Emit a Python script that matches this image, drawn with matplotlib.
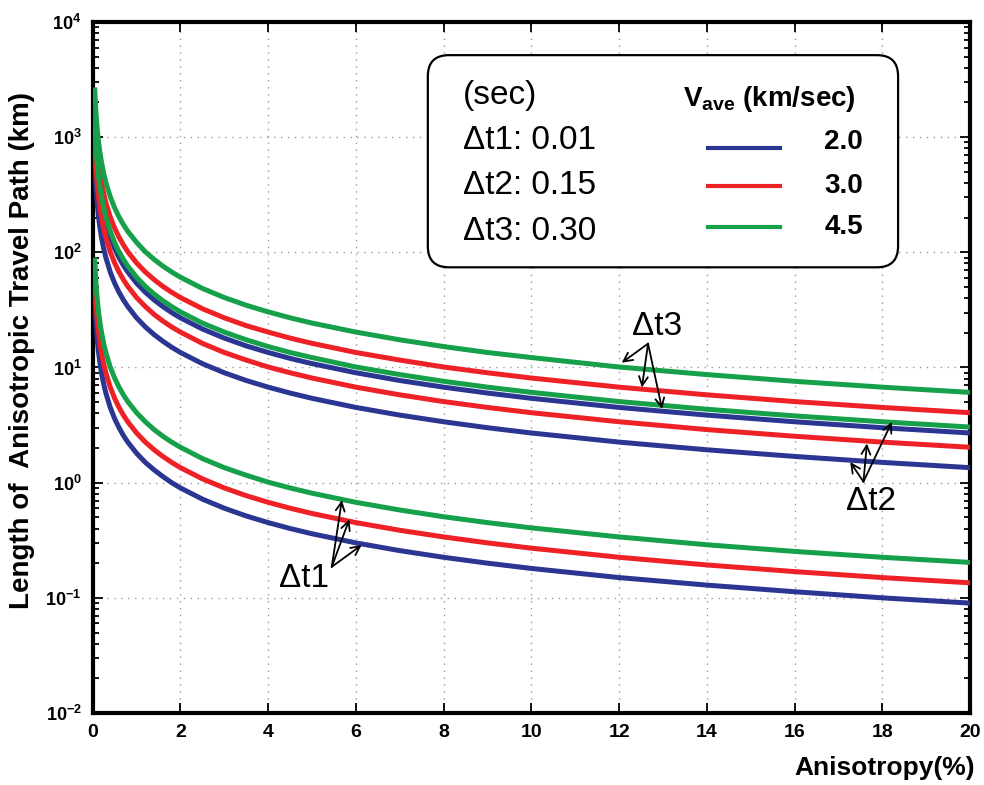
import math
import matplotlib.pyplot as plt
from matplotlib.patches import FancyBboxPatch
from matplotlib.ticker import FuncFormatter, LogLocator, MultipleLocator, NullFormatter

plt.rcParams['font.family'] = ['Liberation Sans', 'DejaVu Sans']
plt.rcParams['mathtext.fontset'] = 'custom'
plt.rcParams['mathtext.rm'] = 'Liberation Sans'
plt.rcParams['mathtext.bf'] = 'Liberation Sans:bold'

# anisotropy (%) at which path lengths were read
anisotropy = [0.045, 0.06, 0.08, 0.1, 0.13, 0.16, 0.2, 0.25, 0.3, 0.4,
              0.5, 0.6, 0.7, 0.8, 1.0, 1.2, 1.4, 1.6, 1.8, 2.0,
              2.5, 3, 3.5, 4, 4.5, 5, 6, 7, 8, 9,
              10, 12, 14, 16, 18, 20]

# path length (km) for dt1 = 0.01 s
dt1_v20 = [40, 30, 22.5, 18, 13.8, 11.3, 9.0, 7.2, 6.0, 4.5,
           3.6, 3.0, 2.57, 2.25, 1.8, 1.5, 1.29, 1.13, 1.0, 0.90,
           0.72, 0.60, 0.514, 0.45, 0.40, 0.36, 0.30, 0.257, 0.225, 0.20,
           0.18, 0.15, 0.129, 0.113, 0.10, 0.09]
dt1_v30 = [60, 45, 33.8, 27, 20.8, 16.9, 13.5, 10.8, 9.0, 6.75,
           5.4, 4.5, 3.86, 3.38, 2.7, 2.25, 1.93, 1.69, 1.5, 1.35,
           1.08, 0.90, 0.771, 0.675, 0.60, 0.54, 0.45, 0.386, 0.338, 0.30,
           0.27, 0.225, 0.193, 0.169, 0.15, 0.135]
dt1_v45 = [90, 67.5, 50.6, 40.5, 31.2, 25.3, 20.3, 16.2, 13.5, 10.1,
           8.1, 6.75, 5.79, 5.06, 4.05, 3.38, 2.89, 2.53, 2.25, 2.03,
           1.62, 1.35, 1.16, 1.01, 0.90, 0.81, 0.675, 0.579, 0.506, 0.45,
           0.405, 0.338, 0.289, 0.253, 0.225, 0.203]

# path length (km) for dt2 = 0.15 s
dt2_v20 = [600, 450, 338, 270, 208, 169, 135, 108, 90, 67.5,
           54, 45, 38.6, 33.8, 27, 22.5, 19.3, 16.9, 15.0, 13.5,
           10.8, 9.0, 7.71, 6.75, 6.0, 5.4, 4.5, 3.86, 3.38, 3.0,
           2.7, 2.25, 1.93, 1.69, 1.5, 1.35]
dt2_v30 = [900, 675, 506, 405, 312, 253, 203, 162, 135, 101,
           81, 67.5, 57.9, 50.6, 40.5, 33.8, 28.9, 25.3, 22.5, 20.3,
           16.2, 13.5, 11.6, 10.1, 9.0, 8.1, 6.75, 5.79, 5.06, 4.5,
           4.05, 3.38, 2.89, 2.53, 2.25, 2.03]
dt2_v45 = [1350, 1013, 759, 608, 467, 380, 304, 243, 203, 152,
           122, 101, 86.8, 75.9, 60.8, 50.6, 43.4, 38.0, 33.8, 30.4,
           24.3, 20.3, 17.4, 15.2, 13.5, 12.2, 10.1, 8.68, 7.59, 6.75,
           6.08, 5.06, 4.34, 3.80, 3.38, 3.04]

# path length (km) for dt3 = 0.30 s
dt3_v20 = [1200, 900, 675, 540, 415, 338, 270, 216, 180, 135,
           108, 90, 77.1, 67.5, 54, 45, 38.6, 33.8, 30, 27,
           21.6, 18, 15.4, 13.5, 12, 10.8, 9.0, 7.71, 6.75, 6.0,
           5.4, 4.5, 3.86, 3.38, 3.0, 2.7]
dt3_v30 = [1800, 1350, 1013, 810, 623, 506, 405, 324, 270, 203,
           162, 135, 116, 101, 81, 67.5, 57.9, 50.6, 45, 40.5,
           32.4, 27, 23.1, 20.3, 18, 16.2, 13.5, 11.6, 10.1, 9.0,
           8.1, 6.75, 5.79, 5.06, 4.5, 4.05]
dt3_v45 = [2700, 2025, 1519, 1215, 935, 759, 608, 486, 405, 304,
           243, 203, 174, 152, 122, 101, 86.8, 75.9, 67.5, 60.8,
           48.6, 40.5, 34.7, 30.4, 27, 24.3, 20.3, 17.4, 15.2, 13.5,
           12.2, 10.1, 8.68, 7.59, 6.75, 6.08]

velocities = ['2.0', '3.0', '4.5']
delays = ['Δt1: 0.01', 'Δt2: 0.15', 'Δt3: 0.30']
colors = ['#2b3592', '#ee2126', '#16a049']

curves = {
    '2.0': [dt1_v20, dt2_v20, dt3_v20],
    '3.0': [dt1_v30, dt2_v30, dt3_v30],
    '4.5': [dt1_v45, dt2_v45, dt3_v45],
}

fig = plt.figure(figsize=(9.84, 7.85), dpi=100)
ax = fig.add_axes([0.0942, 0.0917, 0.8916, 0.8803])

for v, c in zip(velocities, colors):
    for series in curves[v]:
        ax.plot(anisotropy, series, color=c, lw=3.6, solid_capstyle='butt',
                solid_joinstyle='round', zorder=3)

ax.set_yscale('log')
ax.set_xlim(0, 20)
ax.set_ylim(1e-2, 1e4)
ax.xaxis.set_major_locator(MultipleLocator(2))
ax.yaxis.set_major_locator(LogLocator(base=10, numticks=10))
ax.yaxis.set_minor_locator(LogLocator(base=10, subs=range(2, 10), numticks=20))
ax.yaxis.set_minor_formatter(NullFormatter())
ax.yaxis.set_major_formatter(
    FuncFormatter(lambda y, pos: r'$\mathbf{10^{%d}}$' % round(math.log10(y))))

ax.grid(True, which='major', color='#9a9a9a', linestyle=(0, (1, 4)), lw=1.0, zorder=0)
ax.tick_params(which='both', direction='in', top=True, right=True, width=1.3)
ax.tick_params(which='major', length=7, pad=8)
ax.tick_params(which='minor', length=4)
ax.tick_params(axis='x', labelsize=14)
ax.tick_params(axis='y', labelsize=13)
for lab in ax.get_xticklabels():
    lab.set_fontweight('bold')
for s in ax.spines.values():
    s.set_linewidth(3.0)

fig.text(0.0224, 0.553, 'Length of  Anisotropic Travel Path (km)', fontsize=20,
         fontweight='bold', rotation=90, ha='center', va='center')
fig.text(0.991, 0.022, 'Anisotropy(%)', fontsize=19, fontweight='bold',
         ha='right', va='center')

# legend box
box = FancyBboxPatch((0.382, 0.645), 0.536, 0.307,
                     boxstyle='round,pad=0,rounding_size=0.024',
                     mutation_aspect=877.3 / 691, transform=ax.transAxes,
                     facecolor='white', edgecolor='black', lw=1.6, zorder=5)
ax.add_patch(box)
ax.text(0.422, 0.893, '(sec)', transform=ax.transAxes, fontsize=24,
        ha='left', va='center', zorder=6)
row_y = [0.828, 0.763, 0.697]
for d, y in zip(delays, row_y):
    ax.text(0.422, y, d, transform=ax.transAxes, fontsize=24,
            ha='left', va='center', zorder=6)
ax.text(0.673, 0.889, r'$\mathbf{V_{ave}}$ (km/sec)', transform=ax.transAxes,
        fontsize=20, fontweight='bold', ha='left', va='center', zorder=6)
line_y = [0.818, 0.763, 0.703]
num_y = [0.826, 0.763, 0.703]
for v, c, ly, ny in zip(velocities, colors, line_y, num_y):
    ax.plot([0.701, 0.783], [ly, ly], color=c, lw=3.0, transform=ax.transAxes, zorder=6)
    ax.text(0.878, ny, v, transform=ax.transAxes, fontsize=20, fontweight='bold',
            ha='right', va='center', zorder=6)

# arrows pointing to each delay group
arrow_kw = dict(arrowstyle='->', lw=1.3, color='black', shrinkA=0, shrinkB=0,
                mutation_scale=16)
groups = [
    ('Δt1', (4.82, 0.148), (5.45, 0.186), [(5.68, 0.705), (5.85, 0.48), (6.13, 0.287)]),
    ('Δt2', (17.75, 0.684), (17.57, 1.02), [(17.27, 1.51), (17.65, 2.19), (18.22, 3.37)]),
    ('Δt3', (12.86, 22.8), (12.66, 16.1), [(12.06, 11.0), (12.52, 6.71), (12.98, 4.36)]),
]
for label, text_xy, apex, tips in groups:
    ax.text(*text_xy, label, fontsize=24, ha='center', va='center', zorder=4)
    for tip in tips:
        ax.annotate('', xy=tip, xytext=apex, arrowprops=arrow_kw, zorder=4)

fig.savefig('out.png', dpi=100)
